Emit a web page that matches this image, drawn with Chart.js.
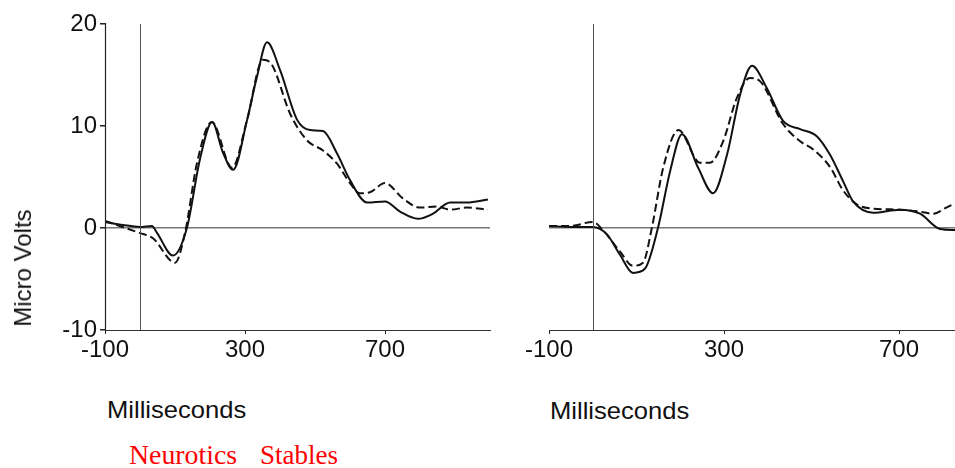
<!DOCTYPE html>
<html>
<head>
<meta charset="utf-8">
<script src="https://cdn.jsdelivr.net/npm/chart.js@4.4.1/dist/chart.umd.min.js"></script>
<style>
  html, body { margin: 0; padding: 0; background: #fff; }
  body { width: 955px; height: 468px; position: relative; overflow: hidden; font-family: "Liberation Sans", Arial, sans-serif; }
  .wrap { position: absolute; top: 0; }
  .lbl { position: absolute; white-space: nowrap; color: #111; font-size: 24px; line-height: 24px; }
  .red { position: absolute; white-space: nowrap; color: #ff0000; font-family: "Liberation Serif", "Times New Roman", serif; font-size: 27px; line-height: 27px; }
</style>
</head>
<body>
<div class="wrap" style="left:0;width:500px;height:360px;"><canvas id="left"></canvas></div>
<div class="wrap" style="left:500px;width:455px;height:360px;"><canvas id="right"></canvas></div>
<div class="lbl" style="left:23px;top:268px;transform:translate(-50%,-50%) rotate(-90deg);">Micro Volts</div>
<div class="lbl" style="left:107px;top:398px;transform:scaleX(1.065);transform-origin:0 0;">Milliseconds</div>
<div class="lbl" style="left:550px;top:399px;transform:scaleX(1.065);transform-origin:0 0;">Milliseconds</div>
<div class="red" style="left:129px;top:442px;transform:scaleX(1.03);transform-origin:0 0;">Neurotics</div>
<div class="red" style="left:260px;top:442px;">Stables</div>
<script>
// ---- data (milliseconds, micro volts) ----
const xTickValues = [-100, 300, 700];
const yTickValues = [-10, 0, 10, 20];

const leftSolidMs = [-100, -49, 0, 34, 49, 94, 134, 171, 206, 237, 266, 306, 334, 363, 400, 449, 486, 523, 563, 600, 649, 700, 743, 794, 837, 886, 934, 994];
const leftSolidUv = [0.6, 0.3, 0.1, 0.2, -0.5, -2.7, 0.0, 6.7, 10.4, 7.4, 5.7, 10.6, 14.8, 18.2, 15.5, 10.6, 9.6, 9.5, 7.3, 4.7, 2.5, 2.6, 1.6, 0.9, 1.4, 2.5, 2.5, 2.8];

const leftDashMs = [-100, -50, 0, 37, 100, 129, 163, 205, 263, 306, 351, 377, 429, 477, 523, 563, 600, 629, 657, 700, 751, 800, 849, 886, 934, 994];
const leftDashUv = [0.7, 0.1, -0.5, -1.0, -3.4, -0.4, 6.4, 10.4, 5.9, 10.6, 16.5, 16.0, 11.2, 8.6, 7.6, 6.3, 4.4, 3.4, 3.5, 4.4, 2.9, 2.0, 2.1, 1.8, 2.0, 1.8];

const rightSolidMs = [-100, -50, 0, 32, 62, 92, 119, 149, 177, 204, 241, 275, 307, 337, 364, 398, 435, 474, 512, 542, 572, 595, 641, 702, 748, 794, 828];
const rightSolidUv = [0.2, 0.1, 0.1, -0.6, -2.6, -4.4, -4.0, 0.0, 5.6, 9.2, 5.9, 3.4, 7.2, 13.1, 15.9, 13.7, 10.5, 9.7, 9.0, 7.2, 4.6, 2.6, 1.5, 1.8, 1.4, -0.1, -0.2];

const rightDashMs = [-100, -50, 0, 25, 62, 92, 115, 135, 161, 196, 245, 268, 298, 329, 359, 382, 435, 474, 504, 542, 572, 604, 641, 702, 748, 778, 808, 828];
const rightDashUv = [0.2, 0.2, 0.6, -0.3, -2.3, -3.7, -3.4, 0.0, 5.9, 9.6, 6.4, 6.4, 8.5, 12.7, 14.7, 14.4, 10.2, 8.5, 7.7, 6.0, 3.7, 2.3, 1.9, 1.8, 1.6, 1.4, 2.0, 2.4];

const seriesNames = ["Neurotics", "Stables"];

// ---- helpers ----
function pts(xs, ys) { return xs.map((x, i) => ({ x: x, y: ys[i] })); }

function vline(ctx, x, top, bottom, color, w) {
  ctx.save();
  ctx.strokeStyle = color;
  ctx.lineWidth = w || 1;
  ctx.setLineDash([]);
  ctx.beginPath();
  ctx.moveTo(x, top);
  ctx.lineTo(x, bottom);
  ctx.stroke();
  ctx.restore();
}

// vertical line at stimulus onset (0 ms)
const onsetLine = {
  id: 'onsetLine',
  afterDraw(chart) {
    const { ctx, chartArea, scales } = chart;
    const x0 = Math.round(scales.x.getPixelForValue(0)) + 0.5;
    vline(ctx, x0, chartArea.top, chartArea.bottom, '#555', 1);
  }
};
// y axis line (left panel only)
const yAxisLine = {
  id: 'yAxisLine',
  afterDraw(chart) {
    const { ctx, chartArea, scales } = chart;
    const xa = Math.round(scales.x.getPixelForValue(-100)) + 0.5;
    vline(ctx, xa, chartArea.top - 1, chartArea.bottom + 1, '#222', 1.2);
  }
};

const tickFont = { family: '"Liberation Sans", Arial, sans-serif', size: 24 };

function makeChart(id, solid, dash, xMax, showY, pad, extraPlugins) {
  return new Chart(document.getElementById(id), {
    type: 'line',
    data: {
      datasets: [
        { label: seriesNames[0], data: solid, borderColor: '#111', borderWidth: 2, pointRadius: 0, cubicInterpolationMode: 'monotone', fill: false },
        { label: seriesNames[1], data: dash, borderColor: '#111', borderWidth: 2, borderDash: [8, 4], pointRadius: 0, cubicInterpolationMode: 'monotone', fill: false }
      ]
    },
    options: {
      responsive: true,
      maintainAspectRatio: false,
      animation: false,
      layout: { padding: pad },
      plugins: { legend: { display: false }, tooltip: { enabled: false } },
      scales: {
        x: {
          type: 'linear',
          min: -100,
          max: xMax,
          afterBuildTicks: s => { s.ticks = xTickValues.map(v => ({ value: v })); },
          afterFit: s => { s.height = 30; },
          ticks: { font: tickFont, color: '#111', padding: 2, maxRotation: 0, autoSkip: false },
          grid: { drawOnChartArea: false, drawTicks: true, tickLength: 4, tickColor: '#222' },
          border: { display: true, color: '#333', width: 1 }
        },
        y: {
          type: 'linear',
          min: -10,
          max: 20,
          afterBuildTicks: s => { s.ticks = yTickValues.map(v => ({ value: v })); },
          afterFit: s => { s.width = showY ? 105 : 0; },
          ticks: { display: showY, font: tickFont, color: '#111', padding: 3 },
          grid: {
            drawOnChartArea: true,
            drawTicks: showY,
            tickLength: 5,
            tickColor: '#222',
            color: c => (c.tick && c.tick.value === 0) ? '#777' : 'rgba(0,0,0,0)',
            lineWidth: 1.5
          },
          border: { display: false }
        }
      }
    },
    plugins: [onsetLine].concat(extraPlugins)
  });
}

makeChart('left', pts(leftSolidMs, leftSolidUv), pts(leftDashMs, leftDashUv), 1000, true, { top: 24, left: 0, right: 10, bottom: 0 }, [yAxisLine]);
makeChart('right', pts(rightSolidMs, rightSolidUv), pts(rightDashMs, rightDashUv), 828, false, { top: 24, left: 49, right: 0, bottom: 0 }, []);
</script>
</body>
</html>
